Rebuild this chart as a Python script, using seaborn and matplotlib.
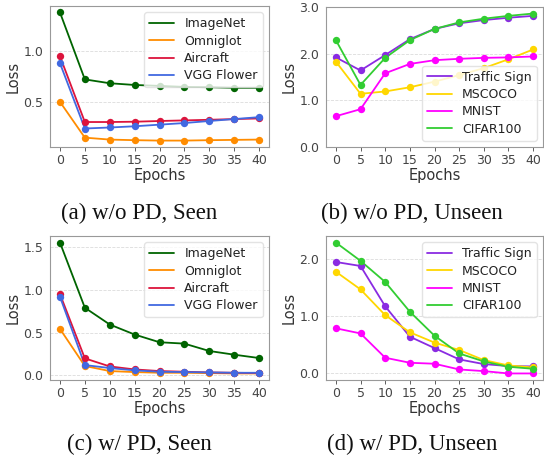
import numpy as np
import pandas as pd
import matplotlib
matplotlib.use("Agg")
import matplotlib.pyplot as plt
import seaborn as sns

epochs = [0, 5, 10, 15, 20, 25, 30, 35, 40]

seen_names = ["ImageNet", "Omniglot", "Aircraft", "VGG Flower"]
seen_colors = ["darkgreen", "darkorange", "crimson", "royalblue"]
unseen_names = ["Traffic Sign", "MSCOCO", "MNIST", "CIFAR100"]
unseen_colors = ["blueviolet", "gold", "magenta", "limegreen"]

# (a) w/o PD, Seen
a_imagenet = [1.378, 0.718, 0.680, 0.663, 0.654, 0.644, 0.641, 0.635, 0.635]
a_omniglot = [0.497, 0.144, 0.125, 0.119, 0.115, 0.115, 0.119, 0.122, 0.125]
a_aircraft = [0.946, 0.298, 0.298, 0.301, 0.308, 0.314, 0.320, 0.327, 0.333]
a_vgg = [0.878, 0.234, 0.244, 0.256, 0.272, 0.288, 0.308, 0.327, 0.346]

# (b) w/o PD, Unseen
b_traffic = [1.92, 1.64, 1.97, 2.31, 2.53, 2.65, 2.72, 2.77, 2.81]
b_mscoco = [1.83, 1.14, 1.19, 1.28, 1.40, 1.54, 1.69, 1.88, 2.09]
b_mnist = [0.66, 0.81, 1.58, 1.78, 1.86, 1.89, 1.91, 1.92, 1.94]
b_cifar = [2.29, 1.33, 1.91, 2.29, 2.53, 2.67, 2.75, 2.81, 2.86]

# (c) w/ PD, Seen
c_imagenet = [1.55, 0.79, 0.594, 0.477, 0.387, 0.371, 0.285, 0.242, 0.203]
c_omniglot = [0.543, 0.110, 0.051, 0.039, 0.031, 0.031, 0.027, 0.023, 0.023]
c_aircraft = [0.949, 0.199, 0.105, 0.070, 0.051, 0.043, 0.035, 0.031, 0.027]
c_vgg = [0.918, 0.121, 0.086, 0.059, 0.043, 0.039, 0.035, 0.031, 0.031]

# (d) w/ PD, Unseen
d_traffic = [1.95, 1.88, 1.175, 0.643, 0.444, 0.246, 0.164, 0.129, 0.123]
d_mscoco = [1.78, 1.47, 1.02, 0.72, 0.54, 0.41, 0.234, 0.14, 0.105]
d_mnist = [0.79, 0.70, 0.275, 0.187, 0.17, 0.07, 0.041, 0.0, 0.0]
d_cifar = [2.29, 1.97, 1.60, 1.08, 0.66, 0.35, 0.21, 0.117, 0.082]

captions = ["(a) w/o PD, Seen", "(b) w/o PD, Unseen", "(c) w/ PD, Seen", "(d) w/ PD, Unseen"]

sns.set_style("white")
plt.rcParams["font.family"] = ["DejaVu Sans"]

fig = plt.figure(figsize=(5.44, 4.59), dpi=100)
W, H = 544, 459


def make_ax(l, t, r, b):
    return fig.add_axes([l / W, 1 - b / H, (r - l) / W, (b - t) / H])


axes = [make_ax(50, 6, 269, 147), make_ax(326, 7, 543, 147),
        make_ax(50, 236, 269, 380), make_ax(326, 236, 543, 380)]

panels = [
    (seen_names, seen_colors, [a_imagenet, a_omniglot, a_aircraft, a_vgg]),
    (unseen_names, unseen_colors, [b_traffic, b_mscoco, b_mnist, b_cifar]),
    (seen_names, seen_colors, [c_imagenet, c_omniglot, c_aircraft, c_vgg]),
    (unseen_names, unseen_colors, [d_traffic, d_mscoco, d_mnist, d_cifar]),
]

for i, (ax, (names, colors, series)) in enumerate(zip(axes, panels)):
    for name, color, vals in zip(names, colors, series):
        df = pd.DataFrame({"Epochs": epochs, "Loss": vals})
        sns.lineplot(data=df, x="Epochs", y="Loss", ax=ax, color=color, lw=1.3, label=name)
        sns.scatterplot(data=df, x="Epochs", y="Loss", ax=ax, color=color, s=28,
                        edgecolor=color, linewidth=0, zorder=3)
    ax.set_xticks(epochs)
    ax.set_xlabel("Epochs", fontsize=10.5, color="#333333", labelpad=1)
    ax.set_ylabel("Loss", fontsize=10.5, color="#333333", labelpad=2)
    ax.tick_params(axis="both", labelsize=9, colors="#444444", length=3, width=0.6,
                   pad=2, left=False, bottom=True)
    ax.yaxis.grid(True, linestyle="--", color="#cccccc", linewidth=0.6, alpha=0.7)
    for sp in ax.spines.values():
        sp.set_color("#999999")
        sp.set_linewidth(0.8)
    if i == 0:
        ax.set_yticks([0.5, 1.0])
    elif i == 1:
        ax.set_ylim(0, 3.0)
        ax.set_yticks([0.0, 1.0, 2.0, 3.0])
    elif i == 2:
        ax.set_yticks([0.0, 0.5, 1.0, 1.5])
    else:
        ax.set_yticks([0.0, 1.0, 2.0])
    ax.yaxis.set_major_formatter(matplotlib.ticker.FormatStrFormatter("%.1f"))
    loc = "lower right" if i == 1 else "upper right"
    leg = ax.legend(loc=loc, fontsize=9, frameon=True, handlelength=2.0,
                    borderpad=0.4, labelspacing=0.35, handletextpad=0.8)
    leg.get_frame().set_edgecolor("#dddddd")
    for t in leg.get_texts():
        t.set_color("#222222")

cap_pos = [(139, 213), (412, 213), (139, 444), (412, 444)]
for (x, y), txt in zip(cap_pos, captions):
    fig.text(x / W, 1 - y / H, txt, ha="center", va="center",
             family=["Liberation Serif"], fontsize=16.5, color="#111111")

fig.savefig("out.png", dpi=100)
